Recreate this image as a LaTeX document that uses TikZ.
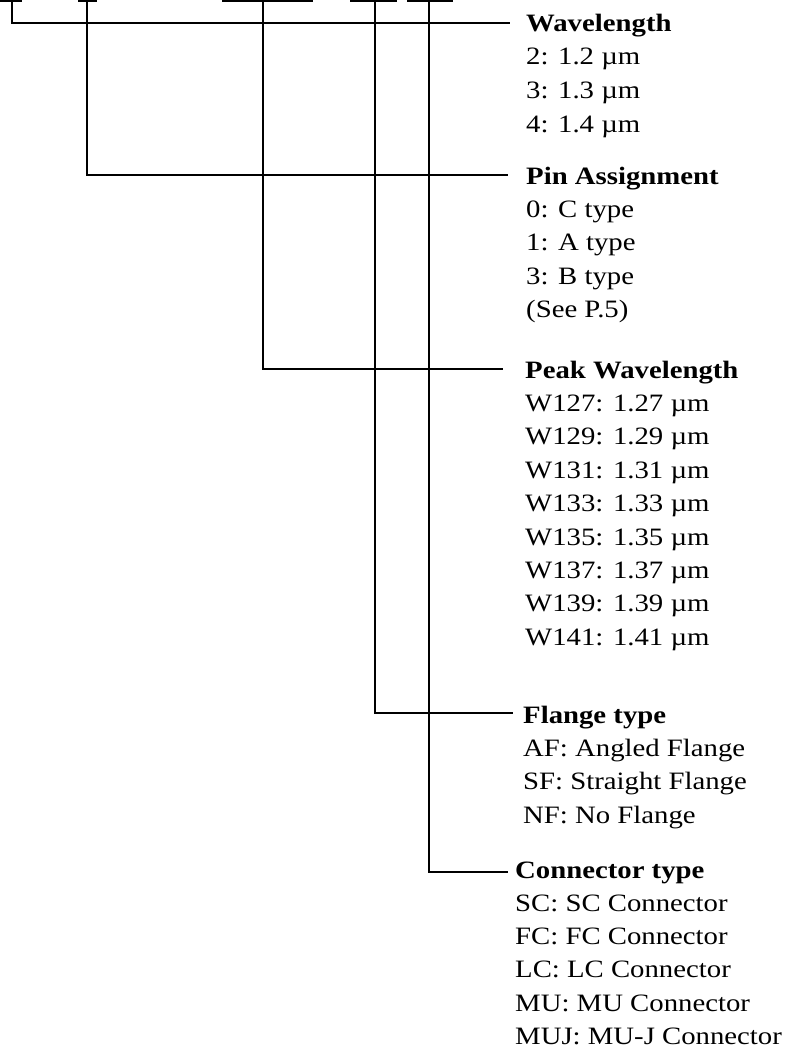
\documentclass[tikz,border=0pt]{standalone}
\usepackage{fontspec}
\setmainfont[FakeStretch=1.15]{Liberation Serif}
\begin{document}
\begin{tikzpicture}[x=1pt,y=-1pt,
  wire/.style={line width=1.5pt, black},
  bar/.style={line width=2.2pt, black},
  title/.style={anchor=base west, inner sep=0pt, font=\bfseries\fontsize{25}{33}\selectfont},
  item/.style={anchor=base west, inner sep=0pt, font=\fontsize{25}{33}\selectfont}]
\useasboundingbox (0,0) rectangle (789,1053);
% top bars
\draw[bar] (0,1) -- (22,1);
\draw[bar] (78,1) -- (97,1);
\draw[bar] (222,1) -- (313,1);
\draw[bar] (350,1) -- (397,1);
\draw[bar] (407,1) -- (453,1);
\coordinate (t1) at (12,0);
\coordinate (t2) at (87,0);
\coordinate (t3) at (263,0);
\coordinate (t4) at (375,0);
\coordinate (t5) at (429,0);
\coordinate (e1) at (510,23);
\coordinate (e2) at (508,175);
\coordinate (e3) at (503,369);
\coordinate (e4) at (513,713);
\coordinate (e5) at (508,872);
% connectors
\draw[wire] (t1) |- (e1);
\draw[wire] (t2) |- (e2);
\draw[wire] (t3) |- (e3);
\draw[wire] (t4) |- (e4);
\draw[wire] (t5) |- (e5);
% Wavelength
\node[title] (wl) at (526,31) {Wavelength};
\foreach \t [count=\i] in {2: 1.2 µm, 3: 1.3 µm, 4: 1.4 µm}
  \node[item] (wl\i) at (526,31+33.8*\i) {\t};
% Pin Assignment
\node[title] (pa) at (526,184) {Pin Assignment};
\foreach \t [count=\i] in {0: C type, 1: A type, 3: B type, (See P.5)}
  \node[item] (pa\i) at (526,184+33.4*\i) {\t};
% Peak Wavelength
\node[title] (pw) at (525,378) {Peak Wavelength};
\foreach \t [count=\i] in {W127: 1.27 µm, W129: 1.29 µm, W131: 1.31 µm, W133: 1.33 µm, W135: 1.35 µm, W137: 1.37 µm, W139: 1.39 µm, W141: 1.41 µm}
  \node[item] (pw\i) at (525,378+33.4*\i) {\t};
% Flange type
\node[title] (ft) at (523,723) {Flange type};
\foreach \t [count=\i] in {AF: Angled Flange, SF: Straight Flange, NF: No Flange}
  \node[item] (ft\i) at (523,723+33.4*\i) {\t};
% Connector type
\node[title] (ct) at (515,878) {Connector type};
\foreach \t [count=\i] in {SC: SC Connector, FC: FC Connector, LC: LC Connector, MU: MU Connector, MUJ: MU-J Connector}
  \node[item] (ct\i) at (515,878+33.3*\i) {\t};
\end{tikzpicture}
\end{document}
